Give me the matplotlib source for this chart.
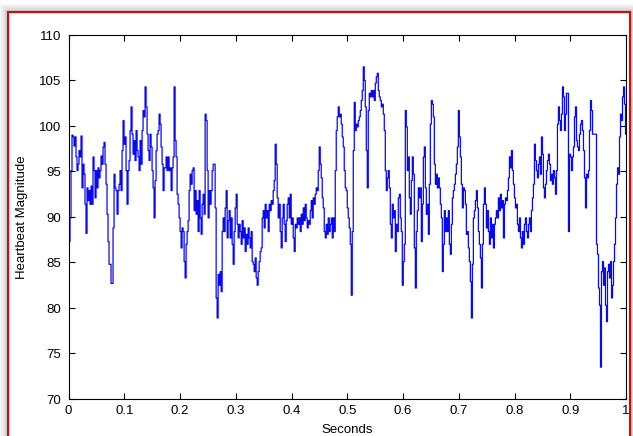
import numpy as np
import matplotlib
matplotlib.use("Agg")
import matplotlib.pyplot as plt
from matplotlib.patches import Rectangle

# Heartbeat magnitude readings (left to right, evenly spaced over 0..1 s)
seg1 = [86.6, 87.3, 89.9, 95.1, 99.0, 98.8, 97.8, 98.8, 96.6, 95.1, 95.8, 97.3, 96.6, 98.9, 93.2,
        95.8, 94.7, 91.4, 88.2, 93.2, 91.8, 92.9, 91.4, 93.4, 91.4, 96.6, 95.1, 92.1, 95.1, 93.2,
        95.4, 94.3, 95.1, 96.7, 95.8, 97.7, 98.2, 95.8, 93.6, 90.3, 87.3, 84.8, 84.8, 82.7, 82.7]
seg2 = [88.8, 94.7, 93.2, 92.9, 90.3, 92.9, 93.6, 95.1, 92.9, 97.3, 100.6, 98.0, 98.8, 95.1, 91.4,
        95.1, 96.2, 99.5, 102.1, 99.1, 96.9, 98.4, 96.2, 99.5, 97.3, 96.6, 95.1, 98.4, 95.8, 99.5,
        101.7, 101.0, 104.3, 102.1, 99.1, 97.3, 96.2, 99.1, 97.7, 95.1, 93.2, 89.9, 94.0, 97.3, 99.1,
        99.5, 101.3, 100.2, 97.7, 95.8, 92.9, 95.4, 95.4, 96.6, 95.1]
seg3 = [96.6, 95.1, 95.4, 92.9, 95.4, 96.6, 104.3, 98.4, 96.6, 92.5, 91.4, 89.9, 88.4, 86.6, 88.8,
        88.4, 85.1, 83.3, 87.0, 88.4, 89.6, 92.9, 94.7, 93.6, 95.1, 95.4, 90.7, 92.9, 90.3, 91.8,
        88.4, 92.9, 89.9, 88.1, 91.4, 92.5, 90.3, 101.3, 100.6, 95.1, 89.9, 92.9, 91.4, 92.9, 95.1,
        95.8, 95.8, 91.0, 81.1, 78.9, 83.7, 82.5, 84.0, 81.8, 88.4]
seg4 = [89.9, 88.4, 91.0, 92.9, 87.7, 89.6, 90.7, 87.7, 89.9, 87.0, 84.8, 88.4, 91.0, 92.5, 89.2,
        87.7, 89.2, 88.4, 87.0, 89.6, 87.7, 88.8, 86.2, 88.1, 87.0, 88.8, 87.7, 86.6, 88.4, 85.1,
        84.8, 84.0, 85.5, 83.3, 82.5, 84.0, 85.1, 86.2, 86.6, 89.9, 90.7, 88.8, 91.4, 89.9, 90.7,
        88.4, 91.4, 90.7, 91.8, 91.4, 92.9, 94.0, 98.0, 95.8, 92.1]
seg5 = [89.9, 91.4, 88.4, 86.6, 89.9, 91.4, 89.2, 87.3, 89.6, 91.4, 92.1, 89.9, 92.5, 89.2, 89.9,
        87.7, 86.2, 89.2, 88.8, 89.9, 89.2, 89.9, 88.4, 90.3, 89.2, 91.0, 89.6, 91.4, 89.9, 88.8,
        89.6, 89.2, 90.7, 91.8, 89.9, 92.1, 91.4, 92.5, 93.2, 92.9, 95.1, 97.7, 95.8, 94.3, 92.1,
        91.0, 88.4, 87.7, 89.2, 88.1, 89.9, 88.4, 89.2, 89.9, 87.7]
seg6 = [89.9, 88.4, 95.1, 99.5, 101.0, 102.1, 101.0, 101.3, 100.2, 98.8, 97.7, 95.1, 93.2, 92.9, 91.0,
        89.9, 88.8, 87.0, 81.4, 88.4, 97.3, 102.6, 99.5, 100.2, 99.9, 100.6, 101.0, 101.7, 102.8, 103.9,
        106.5, 105.0, 102.1, 97.3, 93.2, 101.7, 103.6, 103.2, 103.9, 103.2, 103.9, 102.8, 104.7, 105.4, 105.8,
        103.9, 103.2, 102.8, 102.1, 102.4, 101.3, 99.5, 95.1, 92.9, 94.3]
seg7 = [95.1, 93.2, 89.2, 87.7, 91.4, 89.9, 90.7, 86.2, 89.2, 88.4, 92.1, 92.5, 89.9, 88.4, 82.5,
        85.1, 87.0, 101.7, 99.9, 95.1, 96.6, 92.1, 90.3, 94.0, 96.6, 94.7, 86.6, 82.2, 88.4, 90.7,
        93.2, 92.1, 93.2, 87.3, 91.4, 96.6, 97.7, 93.2, 90.3, 91.4, 88.1, 93.6, 100.2, 102.8, 102.4,
        101.0, 95.8, 93.6, 94.7, 93.2, 94.3, 93.2, 91.4, 89.9, 84.0]
seg8 = [87.0, 90.7, 88.4, 89.9, 88.4, 90.7, 87.0, 85.9, 89.2, 92.1, 92.9, 93.6, 94.7, 95.8, 97.7,
        101.7, 98.8, 96.6, 93.6, 91.0, 93.2, 92.9, 91.4, 88.1, 88.4, 86.6, 85.1, 82.9, 78.9, 84.8,
        89.9, 90.7, 91.8, 92.9, 91.0, 88.4, 87.0, 85.5, 82.2, 87.0, 91.4, 93.2, 91.4, 88.8, 90.7,
        88.4, 87.0, 89.9, 87.7, 89.2, 86.6, 89.2, 89.9, 90.7, 89.9]
seg9 = [92.1, 90.7, 92.5, 91.0, 91.8, 87.7, 91.4, 92.1, 91.8, 92.9, 94.3, 96.6, 95.4, 97.3, 95.1,
        93.6, 92.1, 91.0, 91.4, 89.2, 88.4, 89.9, 87.7, 86.6, 88.4, 87.0, 89.2, 89.9, 88.4, 87.7,
        89.2, 89.9, 88.4, 90.7, 92.1, 93.6, 98.0, 96.2, 95.1, 94.3, 95.8, 96.6, 94.7, 98.8, 96.9,
        93.2, 92.1, 93.6, 95.1, 96.2, 96.9, 95.8, 94.0, 94.7, 93.6]
seg10 = [95.1, 94.3, 92.5, 95.1, 100.2, 102.1, 100.6, 99.5, 101.3, 104.3, 103.2, 99.5, 101.3, 103.6, 103.6,
         88.4, 96.9, 96.6, 95.1, 96.6, 97.7, 101.0, 102.1, 98.4, 97.7, 97.3, 99.1, 100.2, 100.6, 99.5,
         97.3, 94.3, 91.0, 94.7, 94.3, 95.1, 99.5, 102.8, 101.7, 99.1, 99.1, 99.1, 99.1, 87.0, 85.9,
         82.2, 80.3, 73.5, 84.0, 85.1, 82.5, 84.4, 80.3, 78.5, 84.0, 84.8, 83.3, 85.1, 81.1, 82.5,
         85.1, 87.0, 89.9, 93.6, 95.4, 94.7, 98.8, 101.3, 100.6, 103.2, 104.3, 102.4, 99.1]

magnitude = np.array(seg1 + seg2 + seg3 + seg4 + seg5 + seg6 + seg7 + seg8 + seg9 + seg10)
seconds = np.linspace(0.0, 1.0, len(magnitude))

x_ticks = [0, 0.1, 0.2, 0.3, 0.4, 0.5, 0.6, 0.7, 0.8, 0.9, 1]
x_tick_labels = ["0", "0.1", "0.2", "0.3", "0.4", "0.5", "0.6", "0.7", "0.8", "0.9", "1"]
y_ticks = [70, 75, 80, 85, 90, 95, 100, 105, 110]

plt.rcParams['font.family'] = ['Liberation Sans', 'DejaVu Sans']

W, H = 633, 436
fig = plt.figure(figsize=(W / 100, H / 100), dpi=100)
fig.patch.set_facecolor('white')

# shadow + red frame
for k in range(8, 0, -1):
    fig.add_artist(Rectangle(((8 - k) / W, 0 - 0.1), (630 - 8 + 2 * k) / W, (H - 12 + k) / H + 0.1,
                             transform=fig.transFigure, facecolor='#808080', alpha=0.05,
                             edgecolor='none', zorder=-5))
fig.add_artist(Rectangle((8 / W, -0.1), (630 - 8) / W, (H - 12) / H + 0.1,
                         transform=fig.transFigure, facecolor='white', edgecolor='#c81010',
                         linewidth=1.6, zorder=-4))

ax = fig.add_axes([68.5 / W, 1 - 399 / H, (626 - 68.5) / W, (399 - 35) / H])
ax.set_zorder(5)
ax.set_facecolor('white')
ax.plot(seconds, magnitude, color='#0a0aee', linewidth=0.9, drawstyle='steps-mid')
ax.set_xlim(0, 1)
ax.set_ylim(70, 110)
ax.set_xticks(x_ticks)
ax.set_xticklabels(x_tick_labels)
ax.set_yticks(y_ticks)
ax.tick_params(direction='in', length=4, width=0.8, labelsize=9.5, top=True, right=True,
               colors='black')
ax.tick_params(axis='x', pad=4)
ax.tick_params(axis='y', pad=5)
for s in ax.spines.values():
    s.set_linewidth(0.8)
    s.set_color('black')
ax.set_xlabel('Seconds', fontsize=9.5, labelpad=5)
ax.set_ylabel('Heartbeat Magnitude', fontsize=9.5, labelpad=8)

fig.savefig('out.png', dpi=100, facecolor=fig.get_facecolor())
